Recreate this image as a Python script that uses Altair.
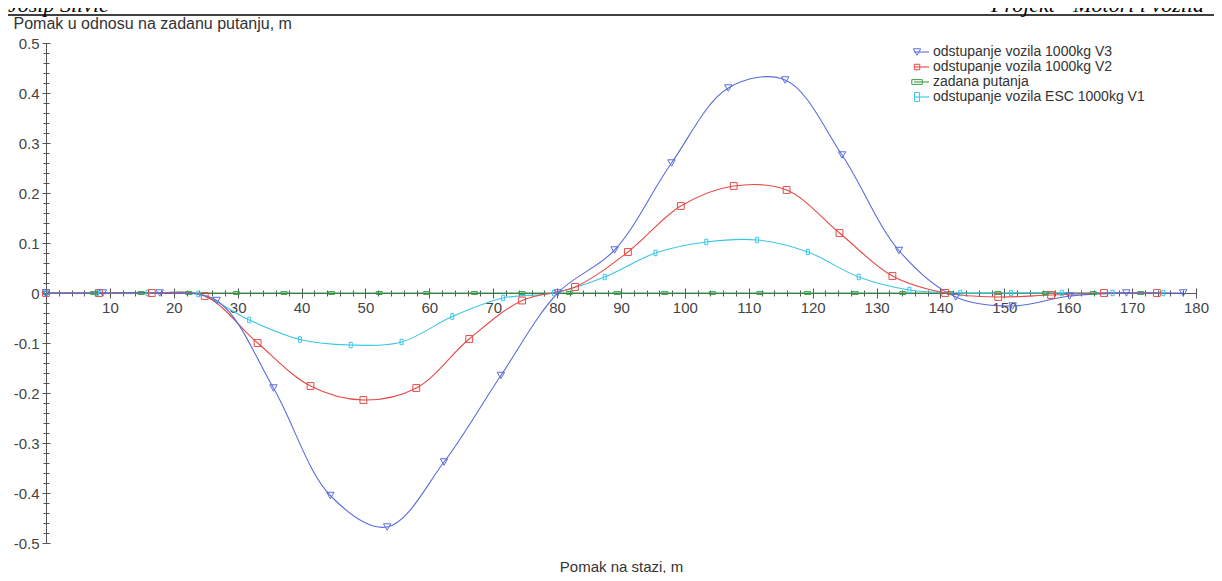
import altair as alt
import pandas as pd

SERIES = [
    "odstupanje vozila 1000kg  V3",
    "odstupanje vozila 1000kg  V2",
    "zadana putanja",
    "odstupanje vozila ESC 1000kg  V1",
]
COLORS = ["#5b6cd9", "#e64a45", "#35a046", "#3cc6e6"]
SHAPES = ["triangle-down", "square", "M-1,-0.45H1V0.45H-1Z", "M-0.55,-1H0.55V1H-0.55Z"]
SIZES = [55, 30, 110, 80]

V3_X = [0, 8.9, 17.8, 26.7, 35.6, 44.5, 53.4, 62.3, 71.2, 80.1, 89.0, 97.9, 106.8,
        115.7, 124.6, 133.5, 142.4, 151.3, 160.2, 169.1, 178.0]
V3_Y = [0, 0, 0, -0.015, -0.19, -0.405, -0.468, -0.338, -0.165, 0.0, 0.086, 0.26, 0.41,
        0.426, 0.276, 0.085, -0.008, -0.026, -0.006, 0, 0]

V2_X = [0, 8.28, 16.56, 24.84, 33.12, 41.4, 49.68, 57.96, 66.24, 74.52, 82.8, 91.08,
        99.36, 107.64, 115.92, 124.2, 132.48, 140.76, 149.04, 157.32, 165.6, 173.88]
V2_Y = [0, 0, 0, -0.006, -0.1, -0.186, -0.214, -0.19, -0.092, -0.015, 0.012, 0.082,
        0.174, 0.214, 0.206, 0.12, 0.034, 0.0, -0.008, -0.004, 0, 0]

V1_X = [0, 7.95, 15.9, 23.85, 31.8, 39.75, 47.7, 55.65, 63.6, 71.55, 79.5, 87.45, 95.4,
        103.35, 111.3, 119.25, 127.2, 135.15, 143.1, 151.05, 159.0, 166.95, 174.9]
V1_Y = [0, 0, 0, -0.002, -0.054, -0.093, -0.104, -0.098, -0.047, -0.01, 0.0, 0.032, 0.08,
        0.102, 0.106, 0.082, 0.032, 0.006, 0, 0, 0, 0, 0]

REF_X = [0, 7.45, 14.9, 22.35, 29.8, 37.25, 44.7, 52.15, 59.6, 67.05, 74.5, 81.95, 89.4,
         96.85, 104.3, 111.75, 119.2, 126.65, 134.1, 141.55, 149.0, 156.45, 163.9, 171.35]
REF_Y = [0] * len(REF_X)

X_MAJOR = [10, 20, 30, 40, 50, 60, 70, 80, 90, 100, 110, 120, 130, 140, 150, 160, 170, 180]
X_MINOR = list(range(0, 181, 2))
Y_MAJOR = [-0.5, -0.4, -0.3, -0.2, -0.1, 0, 0.1, 0.2, 0.3, 0.4, 0.5]
Y_MINOR = [round(-0.5 + 0.02 * i, 2) for i in range(51)]

HEADER_LEFT = "Josip Silvić"
HEADER_RIGHT = "Projekt - Motori i vozila"
Y_TITLE = "Pomak u odnosu na zadanu putanju, m"
X_TITLE = "Pomak na stazi, m"

rows = []
for name, xs, ys in [(SERIES[2], REF_X, REF_Y), (SERIES[3], V1_X, V1_Y),
                     (SERIES[1], V2_X, V2_Y), (SERIES[0], V3_X, V3_Y)]:
    for xv, yv in zip(xs, ys):
        rows.append({"series": name, "x": xv, "y": yv})
df = pd.DataFrame(rows)

W, H = 1150, 500
FONT = "Liberation Sans"
AX = "#555555"

xscale = alt.Scale(domain=[0, 180], nice=False, zero=False)
yscale = alt.Scale(domain=[-0.5, 0.5], nice=False, zero=False)
cscale = alt.Scale(domain=SERIES, range=COLORS)
sscale = alt.Scale(domain=SERIES, range=SHAPES)
zscale = alt.Scale(domain=SERIES, range=SIZES)

base = alt.Chart(df)

lines = base.mark_line(strokeWidth=1.1, interpolate="catmull-rom").encode(
    x=alt.X("x:Q", scale=xscale, axis=alt.Axis(
        orient="bottom", offset=-H / 2, values=X_MAJOR, tickSize=5, domain=True,
        domainColor=AX, tickColor=AX, grid=False, labelFont=FONT, labelFontSize=15,
        labelColor="#444444", labelPadding=2, labelOverlap=False, labelFlush=False,
        title=X_TITLE, titleFont=FONT, titleFontSize=15, titleFontWeight="normal",
        titleColor="#333333", titleX=W / 2, titleY=278, titleBaseline="alphabetic")),
    y=alt.Y("y:Q", scale=yscale, axis=alt.Axis(
        orient="left", values=Y_MAJOR, tickSize=4, domain=True, domainColor=AX,
        tickColor=AX, grid=False, labelFont=FONT, labelFontSize=15, labelColor="#444444",
        labelPadding=3, labelOverlap=False, labelFlush=False,
        labelExpr="'' + datum.value",
        title=Y_TITLE, titleFont=FONT, titleFontSize=16, titleFontWeight="normal",
        titleColor="#333333", titleAngle=0, titleAlign="left", titleBaseline="alphabetic",
        titleX=-33, titleY=-15)),
    stroke=alt.Stroke("series:N", scale=cscale, legend=None),
    detail="series:N",
)

points = base.mark_point(filled=False, strokeWidth=1, opacity=1).encode(
    x=alt.X("x:Q", scale=xscale, axis=alt.Axis(
        orient="top", offset=-H / 2, values=X_MAJOR, tickSize=5, domain=False,
        tickColor=AX, labels=False, grid=False, title=None)),
    y=alt.Y("y:Q", scale=yscale, axis=alt.Axis(
        orient="right", offset=-W, values=Y_MAJOR, tickSize=4, domain=False,
        tickColor=AX, labels=False, grid=False, title=None)),
    color=alt.Color("series:N", scale=cscale, legend=None),
    shape=alt.Shape("series:N", scale=sscale, legend=None),
    size=alt.Size("series:N", scale=zscale, legend=None),
)

minor_a = base.mark_point(opacity=0).encode(
    x=alt.X("x:Q", scale=xscale, axis=alt.Axis(
        orient="bottom", offset=-H / 2, values=X_MINOR, tickSize=3, domain=False,
        tickColor=AX, labels=False, grid=False, title=None)),
    y=alt.Y("y:Q", scale=yscale, axis=alt.Axis(
        orient="left", values=Y_MINOR, tickSize=3, domain=False,
        tickColor=AX, labels=False, grid=False, title=None)),
)

minor_b = base.mark_point(opacity=0).encode(
    x=alt.X("x:Q", scale=xscale, axis=alt.Axis(
        orient="top", offset=-H / 2, values=X_MINOR, tickSize=3, domain=False,
        tickColor=AX, labels=False, grid=False, title=None)),
    y=alt.Y("y:Q", scale=yscale, axis=alt.Axis(
        orient="right", offset=-W, values=Y_MINOR, tickSize=3, domain=False,
        tickColor=AX, labels=False, grid=False, title=None)),
)

# legend (top right, inside the plot)
LEG_SYM_X = 871
LEG_TXT_X = 887
LEG_Y0 = 9
LEG_DY = 15
legend_layers = []
for i, name in enumerate(SERIES):
    ldf = pd.DataFrame({"label": [name]})
    yy = LEG_Y0 + i * LEG_DY
    legend_layers.append(alt.Chart(ldf).mark_rule(color=COLORS[i], strokeWidth=1.1).encode(
        x=alt.value(LEG_SYM_X - 3), x2=alt.value(LEG_SYM_X + 12), y=alt.value(yy)))
    legend_layers.append(alt.Chart(ldf).mark_point(
        shape=SHAPES[i], size=SIZES[i], color=COLORS[i], filled=False, strokeWidth=1,
        opacity=1).encode(x=alt.value(LEG_SYM_X), y=alt.value(yy)))
    legend_layers.append(alt.Chart(ldf).mark_text(
        font=FONT, fontSize=14, align="left", baseline="middle", color="#333333").encode(
        text="label:N", x=alt.value(LEG_TXT_X), y=alt.value(yy)))

hdr = pd.DataFrame({"left": [HEADER_LEFT], "right": [HEADER_RIGHT]})
head_left = alt.Chart(hdr).mark_text(
    font="Liberation Serif", fontStyle="italic", fontSize=22, align="left",
    baseline="alphabetic", color="#000000").encode(
    text="left:N", x=alt.value(-38), y=alt.value(-31))
head_right = alt.Chart(hdr).mark_text(
    font="Liberation Serif", fontStyle="italic", fontSize=22, align="right",
    baseline="alphabetic", color="#000000").encode(
    text="right:N", x=alt.value(W + 8), y=alt.value(-31))
head_rule = alt.Chart(hdr).mark_rule(color="#000000", strokeWidth=1.5).encode(
    x=alt.value(-38), x2=alt.value(W + 20), y=alt.value(-28))

chart = alt.layer(minor_a, minor_b, lines, points, *legend_layers,
                  head_left, head_right, head_rule).resolve_axis(
    x="independent", y="independent"
).properties(
    width=W, height=H,
    background="white",
    autosize=alt.AutoSizeParams(type="none"),
    padding={"left": 38, "top": 35, "right": 18, "bottom": 30},
).configure_view(stroke=None, strokeWidth=0)

chart.save("out.html", embed_options={"renderer": "svg", "actions": False})
